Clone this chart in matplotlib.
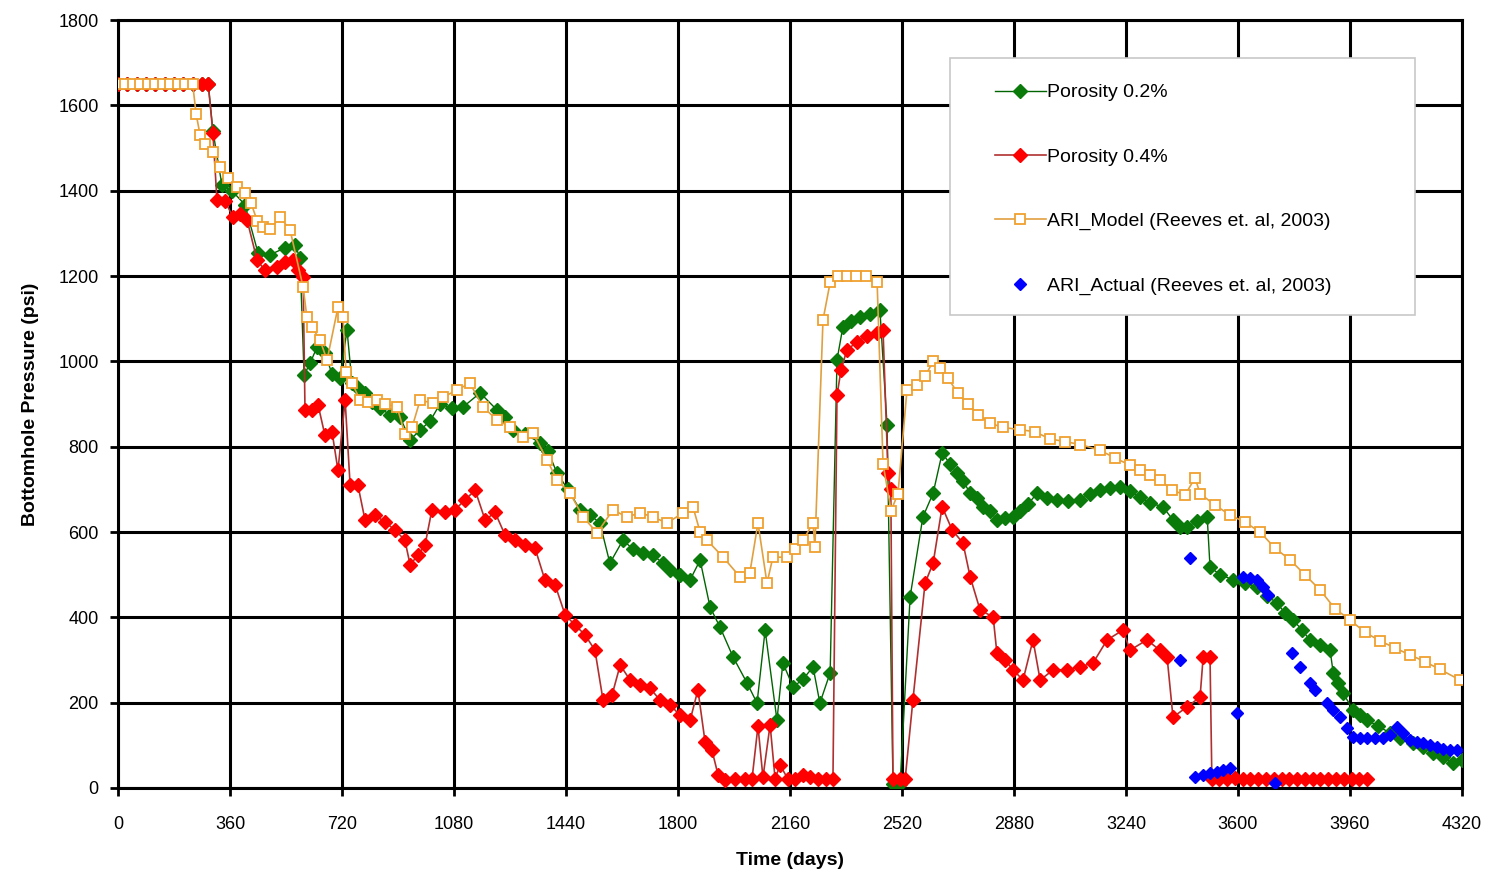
import matplotlib
matplotlib.use("Agg")
import matplotlib.pyplot as plt
from matplotlib.patches import Rectangle

plt.rcParams['font.family'] = ['Liberation Sans Narrow', 'Liberation Sans', 'DejaVu Sans']

# ---------------- data ----------------
green_days = [0, 30, 60, 90, 120, 150, 180, 210, 240, 270, 290, 305, 334, 366, 408, 450, 489, 537,
              569, 585, 598, 617, 640, 665, 688, 714, 736, 752, 768, 794, 816, 842, 874, 906, 939,
              971, 1003, 1035, 1074, 1109, 1164, 1218, 1244, 1270, 1308, 1356, 1382, 1411, 1446,
              1485, 1517, 1549, 1581, 1623, 1655, 1688, 1720, 1752, 1774, 1806, 1839, 1871, 1903,
              1935, 1977, 2022, 2054, 2080, 2118, 2137, 2170, 2202, 2234, 2256, 2289, 2311, 2330,
              2356, 2385, 2417, 2449, 2472, 2491, 2514, 2546, 2587, 2620, 2649, 2674, 2697, 2716,
              2739, 2761, 2780, 2803, 2825, 2851, 2877, 2899, 2925, 2954, 2986, 3018, 3054, 3092,
              3124, 3156, 3188, 3221, 3253, 3285, 3317, 3359, 3391, 3414, 3436, 3468, 3501, 3510,
              3542, 3584, 3623, 3661, 3693, 3725, 3751, 3777, 3806, 3831, 3864, 3896, 3906, 3921,
              3937, 3970, 3992, 4015, 4050, 4089, 4121, 4162, 4195, 4227, 4259, 4291, 4320]
green_psi = [1650, 1650, 1650, 1650, 1650, 1650, 1650, 1650, 1650, 1650, 1650, 1540, 1413, 1400,
             1367, 1254, 1250, 1266, 1273, 1242, 968, 995, 1034, 1020, 970, 960, 1074, 950, 940,
             925, 905, 890, 875, 870, 816, 839, 860, 900, 890, 893, 926, 886, 870, 839, 830, 809,
             790, 738, 700, 652, 640, 621, 527, 581, 560, 551, 545, 527, 511, 500, 488, 534, 424,
             377, 307, 246, 199, 370, 159, 293, 237, 255, 284, 199, 270, 1003, 1081, 1095, 1104,
             1112, 1120, 850, 10, 10, 448, 635, 691, 785, 760, 738, 720, 691, 680, 659, 650, 628,
             632, 635, 650, 665, 691, 680, 675, 672, 675, 690, 698, 703, 705, 695, 682, 668, 659,
             628, 612, 612, 625, 635, 518, 500, 488, 480, 471, 450, 434, 410, 394, 370, 347, 335,
             323, 270, 245, 223, 183, 170, 159, 145, 129, 118, 105, 95, 82, 72, 59, 66]

red_days = [0, 30, 60, 90, 120, 150, 180, 210, 240, 270, 290, 305, 318, 344, 370, 392, 415, 447,
            472, 511, 537, 562, 579, 595, 601, 624, 643, 665, 688, 707, 730, 746, 771, 794, 826,
            858, 890, 922, 939, 964, 987, 1009, 1051, 1083, 1115, 1148, 1180, 1212, 1244, 1276,
            1308, 1340, 1372, 1405, 1437, 1469, 1501, 1533, 1559, 1588, 1614, 1646, 1678, 1710,
            1742, 1774, 1806, 1839, 1864, 1887, 1909, 1929, 1951, 1983, 2015, 2038, 2057, 2073,
            2096, 2112, 2128, 2154, 2176, 2202, 2224, 2250, 2275, 2298, 2311, 2324, 2343, 2375,
            2407, 2440, 2459, 2475, 2484, 2491, 2514, 2530, 2555, 2594, 2620, 2649, 2681, 2716,
            2739, 2771, 2813, 2825, 2851, 2877, 2909, 2941, 2964, 3006, 3050, 3092, 3134, 3179,
            3230, 3253, 3307, 3349, 3372, 3391, 3436, 3478, 3488, 3510, 3516, 3540, 3565, 3590,
            3615, 3640, 3665, 3690, 3715, 3740, 3765, 3790, 3815, 3840, 3865, 3890, 3915, 3940,
            3965, 3990, 4015]
red_psi = [1650, 1650, 1650, 1650, 1650, 1650, 1650, 1650, 1650, 1650, 1650, 1535, 1378, 1375,
           1338, 1345, 1331, 1237, 1214, 1221, 1233, 1237, 1214, 1198, 886, 886, 898, 827, 834,
           745, 909, 710, 710, 628, 640, 623, 605, 581, 523, 546, 570, 652, 646, 652, 675, 698,
           628, 646, 593, 581, 570, 563, 488, 476, 406, 382, 359, 323, 206, 218, 288, 253, 241,
           234, 206, 195, 171, 159, 230, 108, 89, 30, 19, 20, 20, 22, 145, 25, 148, 22, 54, 20,
           22, 30, 25, 20, 22, 20, 920, 980, 1027, 1045, 1060, 1066, 1073, 738, 700, 20, 20, 20,
           206, 480, 527, 659, 605, 574, 495, 417, 401, 316, 300, 277, 253, 347, 253, 277, 277,
           284, 293, 347, 370, 323, 347, 323, 307, 166, 190, 213, 307, 307, 20, 22, 20, 24, 20,
           22, 20, 21, 20, 22, 20, 20, 22, 20, 21, 20, 22, 20, 20, 21, 20]

model_days = [0, 24, 48, 72, 96, 120, 144, 168, 192, 216, 240, 251, 264, 280, 305, 328, 354, 383,
              408, 428, 447, 466, 489, 521, 553, 595, 607, 624, 649, 672, 707, 723, 733, 752, 778,
              804, 832, 858, 897, 922, 945, 971, 1012, 1045, 1090, 1131, 1173, 1218, 1260, 1302,
              1334, 1379, 1411, 1453, 1495, 1540, 1591, 1636, 1678, 1720, 1765, 1816, 1848, 1871,
              1893, 1945, 1999, 2031, 2057, 2086, 2105, 2150, 2176, 2202, 2234, 2240, 2266, 2289,
              2314, 2343, 2372, 2404, 2440, 2459, 2485, 2507, 2536, 2568, 2594, 2620, 2642, 2668,
              2700, 2732, 2764, 2803, 2845, 2899, 2947, 2996, 3044, 3092, 3156, 3205, 3253, 3285,
              3317, 3349, 3388, 3430, 3462, 3478, 3526, 3574, 3622, 3671, 3719, 3767, 3815, 3864,
              3912, 3960, 4008, 4056, 4105, 4153, 4201, 4249, 4314]
model_psi = [1650, 1650, 1650, 1650, 1650, 1650, 1650, 1650, 1650, 1650, 1650, 1580, 1530, 1510,
             1490, 1455, 1430, 1409, 1395, 1370, 1330, 1315, 1310, 1338, 1308, 1174, 1104, 1080,
             1050, 1003, 1127, 1104, 975, 950, 909, 905, 909, 900, 893, 830, 845, 909, 902, 916,
             933, 949, 893, 863, 846, 823, 832, 769, 722, 691, 635, 598, 652, 635, 645, 635, 621,
             645, 659, 600, 581, 541, 495, 505, 621, 480, 541, 541, 560, 581, 621, 565, 1097, 1185,
             1200, 1200, 1200, 1200, 1185, 760, 650, 690, 933, 945, 965, 1000, 985, 960, 925, 900,
             875, 855, 845, 840, 835, 818, 812, 805, 792, 773, 757, 745, 733, 722, 698, 687, 727,
             690, 663, 640, 623, 600, 562, 535, 500, 464, 420, 394, 365, 345, 328, 312, 296, 278,
             253]

actual_days = [3413, 3446, 3462, 3488, 3510, 3532, 3552, 3574, 3597, 3616, 3639, 3661, 3680, 3696,
               3719, 3774, 3799, 3831, 3847, 3886, 3905, 3928, 3951, 3970, 3992, 4015, 4040, 4066,
               4089, 4112, 4130, 4153, 4175, 4195, 4217, 4240, 4259, 4281, 4304]
actual_psi = [300, 539, 26, 30, 35, 38, 42, 47, 176, 495, 492, 488, 470, 452, 12, 316, 284, 245,
              230, 200, 183, 166, 140, 120, 118, 117, 117, 117, 125, 143, 128, 112, 108, 105, 100,
              96, 92, 89, 89]

series_labels = ['Porosity 0.2%', 'Porosity 0.4%', 'ARI_Model (Reeves et. al, 2003)',
                 'ARI_Actual (Reeves et. al, 2003)']
x_ticks = list(range(0, 4321, 360))
y_ticks = list(range(0, 1801, 200))

# ---------------- figure ----------------
fig = plt.figure(figsize=(14.92, 8.74), dpi=100)
ax = fig.add_axes([0.0791, 0.0984, 0.9008, 0.8787])

ax.plot(green_days, green_psi, color='#006400', lw=1.0, marker='D', ms=7.5,
        mfc='#0A7A0A', mec='#0A7A0A', label=series_labels[0], zorder=3)
ax.plot(red_days, red_psi, color='#B03030', lw=1.2, marker='D', ms=7.5,
        mfc='#FF0000', mec='#FF0000', label=series_labels[1], zorder=4)
ax.plot(model_days, model_psi, color='#E0A040', lw=1.2, marker='s', ms=6.5,
        mfc='white', mec='#F0A030', mew=1.3, label=series_labels[2], zorder=5)
ax.plot(actual_days, actual_psi, ls='none', marker='D', ms=6.5,
        mfc='#0000FF', mec='#0000FF', label=series_labels[3], zorder=6)

ax.set_xlim(0, 4320)
ax.set_ylim(0, 1800)
ax.set_xticks(x_ticks)
ax.set_yticks(y_ticks)
ax.grid(True, color='black', lw=2.2)
ax.set_axisbelow(True)
for s in ax.spines.values():
    s.set_linewidth(2.2)
    s.set_color('black')
ax.tick_params(axis='both', direction='out', length=6, width=2, labelsize=13)
ax.tick_params(axis='x', pad=14)
ax.tick_params(axis='y', pad=8)

ax.set_xlabel('Time (days)', fontsize=14, fontweight='bold', labelpad=14)
ax.set_ylabel('Bottomhole Pressure (psi)', fontsize=14, fontweight='bold', labelpad=14)

# legend frame drawn as a separate box, legend entries placed inside it
frame = Rectangle((0.619, 0.616), 0.346, 0.3345, transform=ax.transAxes,
                  facecolor='white', edgecolor='#C8C8C8', lw=1.2, zorder=9)
ax.add_patch(frame)
leg = ax.legend(loc='upper left', bbox_to_anchor=(0.6525, 0.917), frameon=False,
                fontsize=14, labelspacing=2.4, borderpad=0, handlelength=2.6,
                handletextpad=0.05, borderaxespad=0)
leg.set_zorder(10)

fig.savefig('out.png', dpi=100)
